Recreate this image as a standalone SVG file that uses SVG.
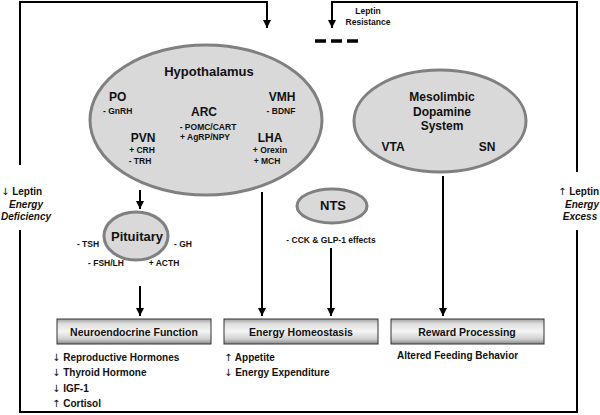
<svg xmlns="http://www.w3.org/2000/svg" width="600" height="415" viewBox="0 0 600 415">
<style>
text{font-family:"Liberation Sans",Arial,sans-serif;font-weight:bold;fill:#111;}
.c{text-anchor:middle;}
.ar{font-family:"DejaVu Sans",sans-serif;font-weight:normal;fill:#111;}
.ln{fill:none;stroke:#000;stroke-width:2;}
.el{fill:#d9d9d9;stroke:#808080;stroke-width:3;}
.box{fill:url(#g);stroke:#333;stroke-width:1;}
.t13{font-size:13px;}
.t12{font-size:12px;}
.s9{font-size:8.5px;}
.l10{font-size:10px;}
.it{font-style:italic;}
</style>
<defs>
<marker id="ah" viewBox="0 0 10 10" refX="10" refY="5" markerWidth="4" markerHeight="4.5" orient="auto" markerUnits="strokeWidth">
<path d="M0,0 L10,5 L0,10 z" fill="#000"/>
</marker>
<linearGradient id="g" x1="0" y1="0" x2="0" y2="1">
<stop offset="0" stop-color="#a0a0a0"/>
<stop offset="0.2" stop-color="#e0e0e0"/>
<stop offset="0.5" stop-color="#f4f4f4"/>
<stop offset="0.8" stop-color="#d0d0d0"/>
<stop offset="1" stop-color="#888"/>
</linearGradient>
</defs>
<rect width="600" height="415" fill="#fff"/>

<g id="connectors">
<path class="ln" d="M20,165 V2 H267 V28" marker-end="url(#ah)"/>
<path class="ln" d="M577,172 V2 H332 V28" marker-end="url(#ah)"/>
<path class="ln" d="M20,230 V412 H577 V230" stroke-width="2.5"/>
<path class="ln" d="M140,190 V209" marker-end="url(#ah)"/>
<path class="ln" d="M140,286 V316" marker-end="url(#ah)"/>
<path class="ln" d="M262,192 V316" marker-end="url(#ah)"/>
<path class="ln" d="M331,248 V316" marker-end="url(#ah)"/>
<path class="ln" d="M443,176 V316" marker-end="url(#ah)"/>
<g id="resistance-dashes" stroke="#000" stroke-width="3.5">
<line x1="315" y1="41" x2="326" y2="41"/>
<line x1="331" y1="41" x2="342" y2="41"/>
<line x1="347" y1="41" x2="358" y2="41"/>
</g>
</g>

<g id="leptin-resistance">
<text class="c s9" x="368" y="14">Leptin</text>
<text class="c s9" x="368" y="25">Resistance</text>
</g>

<g id="energy-deficiency">
<text class="l10" x="1" y="195"><tspan class="ar">↓</tspan> Leptin</text>
<text class="c l10 it" x="26" y="208">Energy</text>
<text class="c l10 it" x="26" y="220">Deficiency</text>
</g>

<g id="energy-excess">
<text class="l10" x="558" y="195"><tspan class="ar">↑</tspan> Leptin</text>
<text class="c l10 it" x="582" y="208">Energy</text>
<text class="c l10 it" x="580" y="220">Excess</text>
</g>

<g id="hypothalamus">
<ellipse class="el" cx="206" cy="120" rx="116" ry="75"/>
<text class="c t13" x="209" y="76">Hypothalamus</text>
<text class="t12" x="109" y="101">PO</text>
<text class="s9" x="103" y="114">- GnRH</text>
<text class="c t12" x="204" y="116">ARC</text>
<text class="c s9" x="208" y="130">- POMC/CART</text>
<text class="c s9" x="205" y="140">+ AgRP/NPY</text>
<text class="c t12" x="282" y="101">VMH</text>
<text class="c s9" x="281" y="114">- BDNF</text>
<text class="c t12" x="143" y="142">PVN</text>
<text class="c s9" x="142" y="153">+ CRH</text>
<text class="c s9" x="140" y="164">- TRH</text>
<text class="c t12" x="270" y="142">LHA</text>
<text class="c s9" x="270" y="153">+ Orexin</text>
<text class="c s9" x="267" y="164">+ MCH</text>
</g>

<g id="mesolimbic">
<ellipse class="el" cx="440" cy="121" rx="86" ry="51"/>
<text class="c t12" x="442" y="101">Mesolimbic</text>
<text class="c t12" x="442" y="116">Dopamine</text>
<text class="c t12" x="442" y="130">System</text>
<text class="c t12" x="393" y="151">VTA</text>
<text class="c t12" x="487" y="151">SN</text>
</g>

<g id="nts">
<ellipse class="el" cx="332" cy="206" rx="35" ry="17"/>
<text class="c t13" x="333" y="210">NTS</text>
<text class="c s9" x="331" y="243">- CCK &amp; GLP-1 effects</text>
</g>

<g id="pituitary">
<ellipse class="el" cx="136" cy="236" rx="32" ry="24"/>
<text class="c t13" x="137" y="241">Pituitary</text>
<text class="c s9" x="88" y="247">- TSH</text>
<text class="c s9" x="183" y="247">- GH</text>
<text class="c s9" x="106" y="266">- FSH/LH</text>
<text class="c s9" x="164" y="266">+ ACTH</text>
</g>

<g id="neuroendocrine">
<rect class="box" x="57" y="319" width="154" height="25"/>
<text class="c" x="134" y="335.5" font-size="10.5">Neuroendocrine Function</text>
<text class="l10" x="52" y="360.5"><tspan class="ar">↓</tspan> Reproductive Hormones</text>
<text class="l10" x="52" y="376"><tspan class="ar">↓</tspan> Thyroid Hormone</text>
<text class="l10" x="52" y="391.5"><tspan class="ar">↓</tspan> IGF-1</text>
<text class="l10" x="52" y="406.5"><tspan class="ar">↑</tspan> Cortisol</text>
</g>

<g id="energy-homeostasis">
<rect class="box" x="224" y="319" width="154" height="25"/>
<text class="c" x="301" y="335.5" font-size="10.5">Energy Homeostasis</text>
<text class="l10" x="224" y="360.5"><tspan class="ar">↑</tspan> Appetite</text>
<text class="l10" x="224" y="376"><tspan class="ar">↓</tspan> Energy Expenditure</text>
</g>

<g id="reward-processing">
<rect class="box" x="391" y="319" width="153" height="25"/>
<text class="c" x="467" y="335.5" font-size="10.5">Reward Processing</text>
<text class="l10" x="397" y="358.5">Altered Feeding Behavior</text>
</g>
</svg>
